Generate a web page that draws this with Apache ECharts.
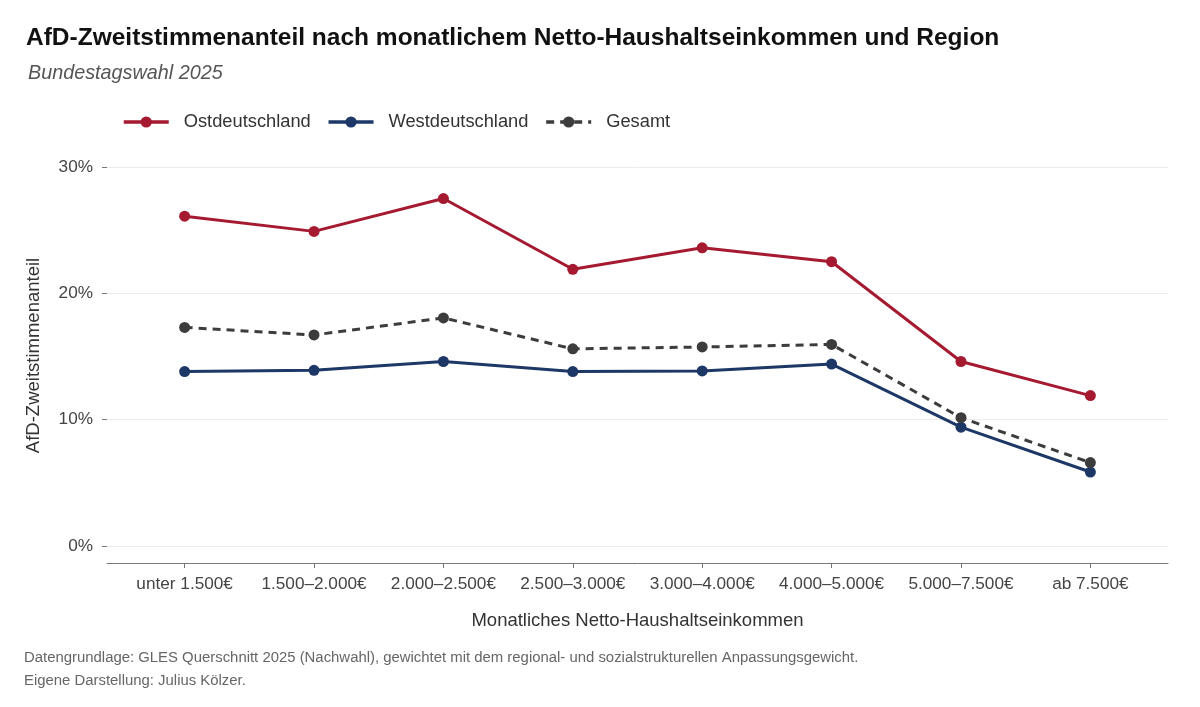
<!DOCTYPE html>
<html>
<head>
<meta charset="utf-8">
<script src="https://cdn.jsdelivr.net/npm/echarts@6/dist/echarts.min.js"></script>
<style>
  html, body { margin: 0; padding: 0; background: #fff; }
  #chart { width: 1200px; height: 707px; }
</style>
</head>
<body>
<div id="chart"></div>
<script>
const categories = [
  "unter 1.500€", "1.500–2.000€", "2.000–2.500€", "2.500–3.000€",
  "3.000–4.000€", "4.000–5.000€", "5.000–7.500€", "ab 7.500€"
];
// AfD-Zweitstimmenanteil in %
const ost = [26.1, 24.9, 27.5, 21.9, 23.6, 22.5, 14.6, 11.9];
const west = [13.8, 13.9, 14.6, 13.8, 13.85, 14.4, 9.4, 5.85];
const gesamt = [17.3, 16.7, 18.05, 15.6, 15.75, 15.95, 10.15, 6.6];
const yTicks = [0, 10, 20, 30];

const FONT = "Liberation Sans";
const catIdx = categories.map((c, i) => i);
const toPairs = (arr) => arr.map((v, i) => [i, v]);

const makeSeries = (name, values, color, dashed) => ({
  name: name,
  type: "line",
  data: toPairs(values),
  symbol: "circle",
  symbolSize: 11,
  showSymbol: true,
  lineStyle: { color: color, width: 3, type: dashed ? [8, 6] : "solid" },
  itemStyle: { color: color },
  emphasis: { disabled: true },
  z: dashed ? 3 : 2
});

const chart = echarts.init(document.getElementById("chart"));
chart.setOption({
  animation: false,
  backgroundColor: "#fff",
  textStyle: { fontFamily: FONT },
  title: [
    {
      text: "AfD-Zweitstimmenanteil nach monatlichem Netto-Haushaltseinkommen und Region",
      left: 21, top: 21,
      textStyle: { fontFamily: FONT, fontSize: 24.5, fontWeight: "bold", color: "#111" }
    },
    {
      text: "Bundestagswahl 2025",
      left: 23, top: 58,
      textStyle: { fontFamily: FONT, fontSize: 19.8, fontStyle: "italic", fontWeight: "normal", color: "#555" }
    }
  ],
  legend: {
    left: 117, top: 108,
    itemWidth: 45, itemHeight: 14, itemGap: 16,
    lineStyle: { width: 3.5 },
    textStyle: { fontFamily: FONT, fontSize: 18.3, color: "#333", padding: [0, 0, 0, 10] },
    data: ["Ostdeutschland", "Westdeutschland", "Gesamt"]
  },
  grid: { left: 107, right: 32, top: 148, bottom: 144, containLabel: false },
  xAxis: {
    type: "value",
    min: -0.6, max: 7.6,
    name: "Monatliches Netto-Haushaltseinkommen",
    nameLocation: "middle", nameGap: 48,
    nameTextStyle: { fontFamily: FONT, fontSize: 18.5, color: "#333" },
    axisLine: { show: true, onZero: false, lineStyle: { color: "#777", width: 1 } },
    axisTick: { show: true, length: 5, customValues: catIdx, lineStyle: { color: "#777" } },
    axisLabel: {
      customValues: catIdx, margin: 13,
      fontFamily: FONT, fontSize: 17.2, color: "#444",
      formatter: (v) => categories[Math.round(v)]
    },
    splitLine: { show: false }
  },
  yAxis: {
    type: "value",
    min: -1.35, max: 31.5,
    name: "AfD-Zweitstimmenanteil",
    nameLocation: "middle", nameGap: 64,
    nameTextStyle: { fontFamily: FONT, fontSize: 18.5, color: "#333" },
    axisLine: { show: false, onZero: false },
    axisTick: { show: true, length: 5, customValues: yTicks, lineStyle: { color: "#777" } },
    axisLabel: {
      customValues: yTicks, margin: 14,
      fontFamily: FONT, fontSize: 17.2, color: "#444",
      formatter: (v) => v + "%"
    },
    splitLine: { show: true, lineStyle: { color: "#ebebeb", width: 1 } }
  },
  series: [
    makeSeries("Ostdeutschland", ost, "#A51A30", false),
    makeSeries("Westdeutschland", west, "#1D3766", false),
    makeSeries("Gesamt", gesamt, "#3C3C3C", true)
  ],
  graphic: [
    {
      type: "text", left: 24, top: 650,
      style: {
        text: "Datengrundlage: GLES Querschnitt 2025 (Nachwahl), gewichtet mit dem regional- und sozialstrukturellen Anpassungsgewicht.",
        fontFamily: FONT, fontSize: 14.9, fill: "#666"
      }
    },
    {
      type: "text", left: 24, top: 673,
      style: { text: "Eigene Darstellung: Julius Kölzer.", fontFamily: FONT, fontSize: 14.9, fill: "#666" }
    }
  ]
});
</script>
</body>
</html>
